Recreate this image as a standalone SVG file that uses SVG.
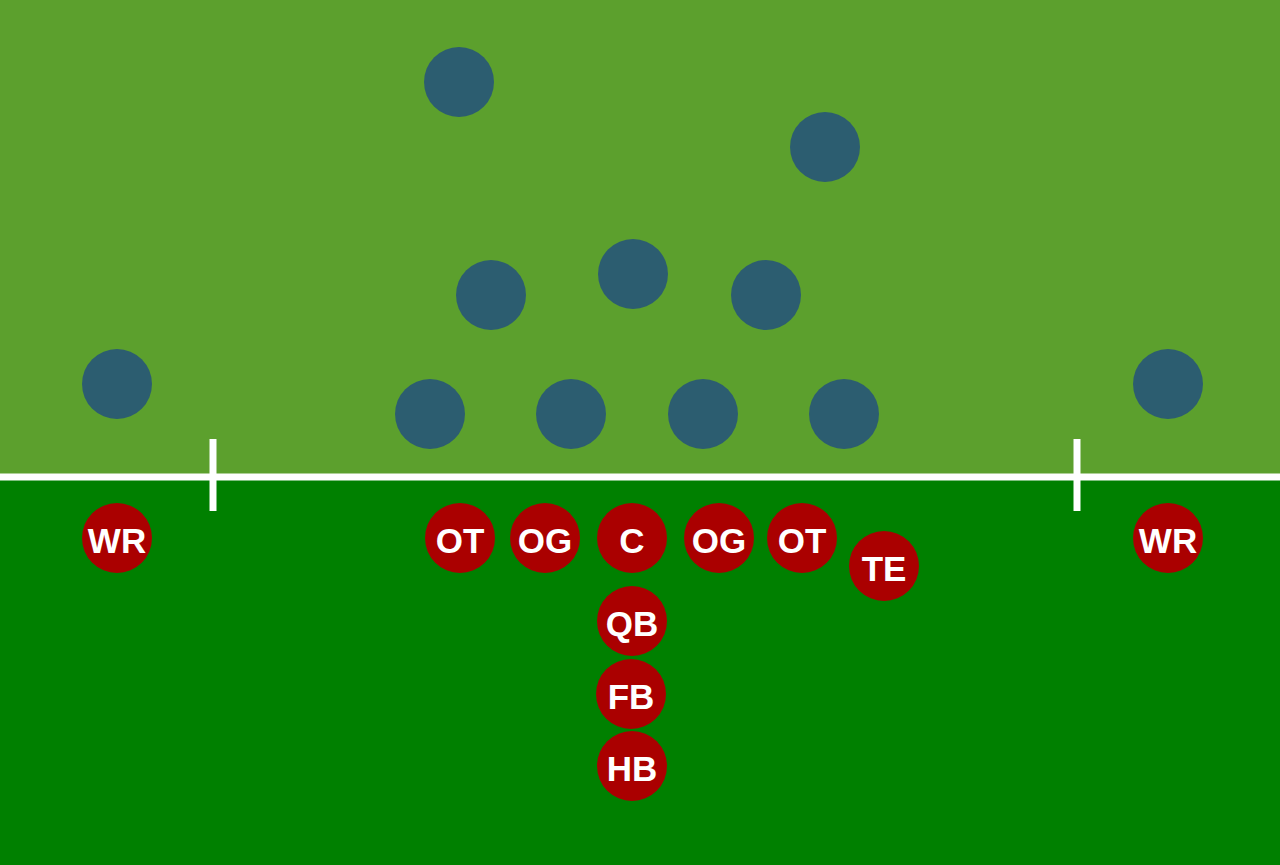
<svg xmlns="http://www.w3.org/2000/svg" width="1280" height="865" viewBox="0 0 1280 865">
<style>
.def{fill:#2c5d70}
.off{fill:#aa0000}
.lbl{font-family:"Liberation Sans",Arial,sans-serif;font-weight:bold;font-size:35px;fill:#ffffff;text-anchor:middle;dominant-baseline:central}
.ln{stroke:#ffffff;stroke-width:7;fill:none}
</style>
<g id="field">
<rect x="0" y="0" width="1280" height="477" fill="#5ca02d"/>
<rect x="0" y="477" width="1280" height="388" fill="#008000"/>
</g>
<g id="lines">
<line class="ln" x1="0" y1="477" x2="1280" y2="477"/>
<line class="ln" x1="213" y1="439" x2="213" y2="511"/>
<line class="ln" x1="1077" y1="439" x2="1077" y2="511"/>
</g>
<g id="defense">
<circle id="d1" class="def" cx="459" cy="82" r="35"/>
<circle id="d2" class="def" cx="825" cy="147" r="35"/>
<circle id="d3" class="def" cx="491" cy="295" r="35"/>
<circle id="d4" class="def" cx="633" cy="274" r="35"/>
<circle id="d5" class="def" cx="766" cy="295" r="35"/>
<circle id="d6" class="def" cx="117" cy="384" r="35"/>
<circle id="d7" class="def" cx="1168" cy="384" r="35"/>
<circle id="d8" class="def" cx="430" cy="414" r="35"/>
<circle id="d9" class="def" cx="571" cy="414" r="35"/>
<circle id="d10" class="def" cx="703" cy="414" r="35"/>
<circle id="d11" class="def" cx="844" cy="414" r="35"/>
</g>
<g id="wr-left"><circle class="off" cx="117" cy="538" r="35"/><text class="lbl" x="117" y="540">WR</text></g>
<g id="ot-left"><circle class="off" cx="460" cy="538" r="35"/><text class="lbl" x="460" y="540">OT</text></g>
<g id="og-left"><circle class="off" cx="545" cy="538" r="35"/><text class="lbl" x="545" y="540">OG</text></g>
<g id="c"><circle class="off" cx="632" cy="538" r="35"/><text class="lbl" x="632" y="540">C</text></g>
<g id="og-right"><circle class="off" cx="719" cy="538" r="35"/><text class="lbl" x="719" y="540">OG</text></g>
<g id="ot-right"><circle class="off" cx="802" cy="538" r="35"/><text class="lbl" x="802" y="540">OT</text></g>
<g id="te"><circle class="off" cx="884" cy="566" r="35"/><text class="lbl" x="884" y="568">TE</text></g>
<g id="qb"><circle class="off" cx="632" cy="621" r="35"/><text class="lbl" x="632" y="623">QB</text></g>
<g id="fb"><circle class="off" cx="631" cy="694" r="35"/><text class="lbl" x="631" y="696">FB</text></g>
<g id="hb"><circle class="off" cx="632" cy="766" r="35"/><text class="lbl" x="632" y="768">HB</text></g>
<g id="wr-right"><circle class="off" cx="1168" cy="538" r="35"/><text class="lbl" x="1168" y="540">WR</text></g>
</svg>
